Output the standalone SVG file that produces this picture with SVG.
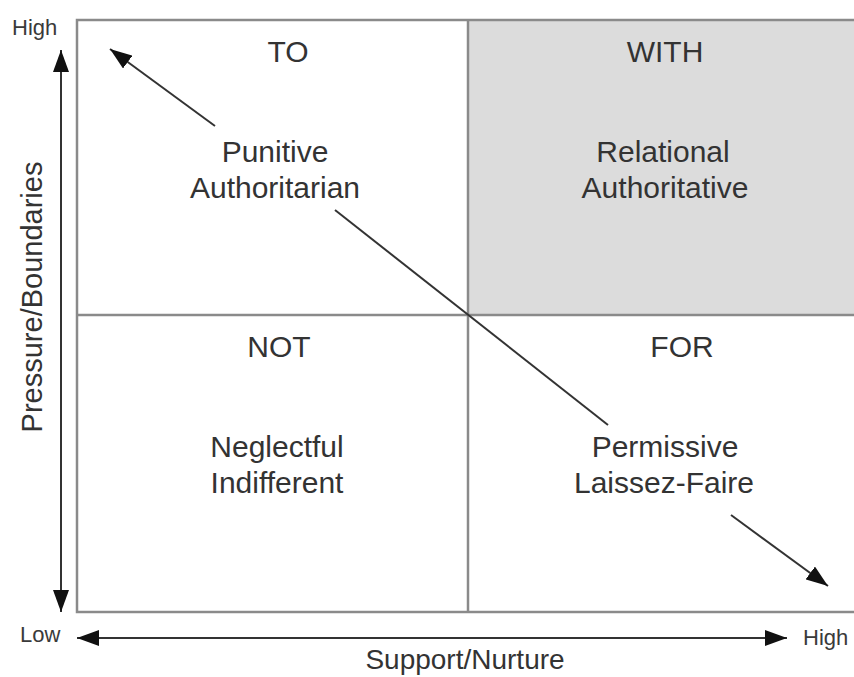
<svg xmlns="http://www.w3.org/2000/svg" width="854" height="677" viewBox="0 0 854 677">
<style>
.grid{stroke:#8a8a8a;stroke-width:2.5;fill:none}
.lbl{font-family:"Liberation Sans",Arial,sans-serif;font-size:30px;fill:#333;text-anchor:middle}
.ax{font-family:"Liberation Sans",Arial,sans-serif;font-size:22px;fill:#3a3a3a}
.axt{font-family:"Liberation Sans",Arial,sans-serif;font-size:29px;fill:#333;text-anchor:middle}
.arr{stroke:#333;stroke-width:2;fill:none}
</style>
<defs>
<marker id="ah2" viewBox="0 0 10 10" refX="10" refY="5" markerWidth="22" markerHeight="16" markerUnits="userSpaceOnUse" orient="auto" preserveAspectRatio="none"><path d="M0,0 L10,5 L0,10 Z" fill="#111"/></marker>
</defs>
<rect width="854" height="677" fill="#fff"/>
<g id="quadrant-with"><rect x="468" y="20" width="386" height="295" fill="#dcdcdc"/></g>
<g id="grid">
<path class="grid" d="M854,20 H77 V612 H854"/>
<path class="grid" d="M468,20 V612 M77,315 H854"/>
</g>
<g id="quad-to"><text class="lbl" x="288" y="62">TO</text><text class="lbl" x="275" y="162">Punitive</text><text class="lbl" x="275" y="198">Authoritarian</text></g>
<g id="quad-with"><text class="lbl" x="665" y="62">WITH</text><text class="lbl" x="663" y="162">Relational</text><text class="lbl" x="665" y="198">Authoritative</text></g>
<g id="quad-not"><text class="lbl" x="279" y="357">NOT</text><text class="lbl" x="277" y="457">Neglectful</text><text class="lbl" x="277" y="493">Indifferent</text></g>
<g id="quad-for"><text class="lbl" x="682" y="357">FOR</text><text class="lbl" x="665" y="457">Permissive</text><text class="lbl" x="664" y="493">Laissez-Faire</text></g>
<g id="axes">
<text class="ax" x="12" y="35">High</text>
<text class="ax" x="20" y="642">Low</text>
<text class="ax" x="803" y="645">High</text>
<text class="axt" x="465" y="669" style="font-size:28px">Support/Nurture</text>
<text class="axt" transform="translate(42,297) rotate(-90)">Pressure/Boundaries</text>
</g>
<g id="connectors">
<line class="arr" x1="61" y1="330" x2="61" y2="50" marker-end="url(#ah2)"/>
<line class="arr" x1="61" y1="330" x2="61" y2="612" marker-end="url(#ah2)"/>
<line class="arr" x1="430" y1="638" x2="77" y2="638" marker-end="url(#ah2)"/>
<line class="arr" x1="430" y1="638" x2="787" y2="638" marker-end="url(#ah2)"/>
<line class="arr" x1="215" y1="126" x2="110" y2="49" marker-end="url(#ah2)"/>
<line class="arr" x1="335" y1="210" x2="608" y2="425"/>
<line class="arr" x1="731" y1="515" x2="828" y2="586" marker-end="url(#ah2)"/>
</g>
</svg>
